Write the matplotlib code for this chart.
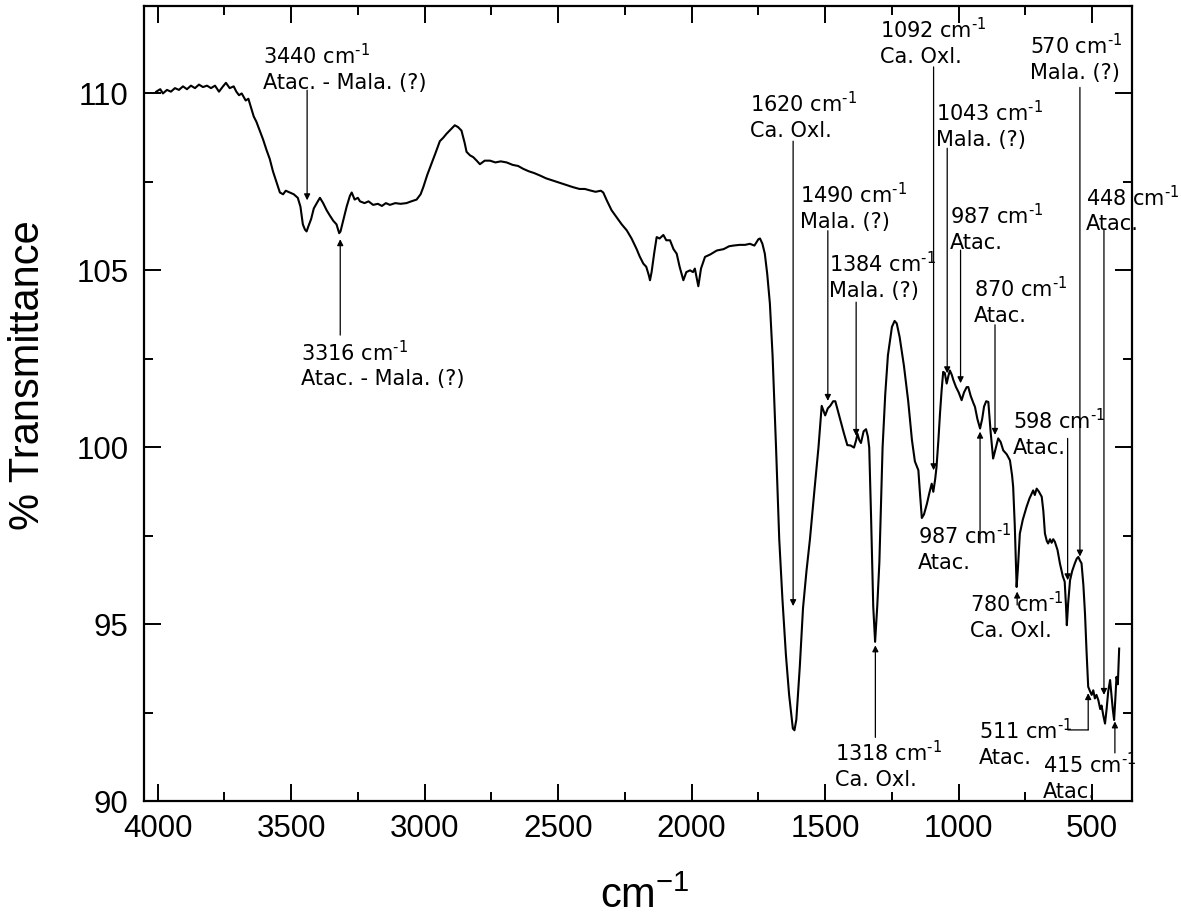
import matplotlib
matplotlib.use('Agg')
import matplotlib.pyplot as plt
from matplotlib.ticker import MultipleLocator

# FTIR spectrum (cm-1, % transmittance)
wavenumber = [
    4005, 3990, 3980, 3965, 3950, 3935, 3920, 3905, 3890, 3875, 3860, 3845,
    3830, 3815, 3800, 3785, 3770, 3755, 3744, 3730, 3715, 3705, 3695, 3685,
    3670, 3660, 3650, 3640, 3630, 3620, 3605, 3592, 3580, 3568, 3555, 3542,
    3530, 3520, 3505, 3490, 3475, 3465, 3456, 3448, 3442, 3435, 3425, 3415,
    3400, 3392, 3380, 3367, 3355, 3342, 3330, 3320, 3315, 3305, 3292, 3280,
    3273, 3262, 3250, 3242, 3225, 3210, 3193, 3175, 3160, 3145, 3130, 3110,
    3090, 3068, 3050, 3030, 3015, 3005, 2990, 2980, 2960, 2943, 2930, 2918,
    2900, 2887, 2875, 2862, 2850, 2843, 2830, 2818, 2805, 2793, 2775, 2755,
    2735, 2715, 2693, 2670, 2650, 2631, 2610, 2590, 2568, 2545, 2525, 2506,
    2485, 2465, 2444, 2420, 2400, 2381, 2360, 2340, 2331, 2318, 2300, 2281,
    2262, 2243, 2225, 2206, 2195, 2181, 2170, 2160, 2156, 2150, 2140, 2131,
    2120, 2106, 2095, 2081, 2068, 2056, 2045, 2031, 2020, 2006, 1995, 1988,
    1975, 1965, 1950, 1930, 1906, 1880, 1860, 1844, 1820, 1800, 1782, 1765,
    1750, 1744, 1735, 1726, 1717, 1707, 1697, 1684, 1672, 1660, 1647, 1635,
    1621, 1615, 1608, 1595, 1583, 1570, 1557, 1540, 1525, 1513, 1500, 1490,
    1481, 1470, 1462, 1443, 1430, 1417, 1405, 1392, 1384, 1379, 1372, 1366,
    1356, 1347, 1340, 1335, 1328, 1320, 1313, 1305, 1297, 1285, 1275, 1265,
    1250, 1240, 1232, 1221, 1205, 1189, 1175, 1164, 1151, 1145, 1138, 1130,
    1119, 1110, 1101, 1095, 1088, 1083, 1076, 1070, 1064, 1058, 1052, 1045,
    1039, 1033, 1026, 1020, 1010, 1000, 989, 980, 970, 964, 955, 945,
    939, 930, 920, 912, 905, 897, 889, 880, 871, 862, 852, 843,
    833, 820, 808, 800, 796, 790, 783, 778, 771, 760, 746, 735,
    721, 715, 708, 700, 689, 683, 677, 670, 665, 658, 652, 646,
    640, 630, 621, 610, 603, 598, 595, 590, 583, 575, 565, 558,
    552, 546, 540, 533, 527, 521, 515, 508, 502, 496, 490, 484,
    477, 470, 465, 458, 452, 446, 440, 433, 428, 423, 418, 414,
    409, 404, 399,
]
transmittance = [
    110.05, 110.12, 110.0, 110.1, 110.05, 110.15, 110.1, 110.2, 110.12, 110.22, 110.15, 110.25,
    110.18, 110.22, 110.15, 110.22, 110.05, 110.2, 110.3, 110.15, 110.2, 110.05, 109.95, 110.0,
    109.8, 109.85, 109.6, 109.35, 109.2, 109.0, 108.7, 108.4, 108.15, 107.8, 107.5, 107.2,
    107.15, 107.25, 107.2, 107.15, 107.05, 106.8, 106.3, 106.15, 106.1, 106.25, 106.45, 106.75,
    106.95, 107.05, 106.9, 106.7, 106.55, 106.4, 106.3, 106.05, 106.1, 106.4, 106.8, 107.1,
    107.2, 107.0, 107.05, 106.95, 106.9, 106.95, 106.85, 106.88, 106.82, 106.9, 106.85, 106.9,
    106.88, 106.9, 106.95, 107.0, 107.15, 107.35, 107.7, 107.9, 108.3, 108.65, 108.75, 108.86,
    109.0, 109.1, 109.05, 108.95, 108.6, 108.35, 108.25, 108.2, 108.1, 108.0, 108.1, 108.1,
    108.05, 108.08, 108.05, 107.98, 107.95, 107.87, 107.8, 107.75, 107.68, 107.6, 107.55, 107.5,
    107.45, 107.4, 107.35, 107.3, 107.3, 107.26, 107.22, 107.25, 107.2, 106.98, 106.7, 106.5,
    106.3, 106.13, 105.9, 105.6, 105.4, 105.19, 105.1, 104.85, 104.72, 104.95, 105.5, 105.94,
    105.9, 106.0, 105.85, 105.85, 105.6, 105.47, 105.1, 104.72, 104.95, 105.0, 104.95, 105.05,
    104.55, 105.05, 105.38, 105.45, 105.56, 105.6, 105.68, 105.7, 105.72, 105.72, 105.75, 105.7,
    105.88, 105.9, 105.75, 105.47, 104.9, 104.06, 102.6, 100.0, 97.4, 95.7, 94.13, 93.0,
    92.05, 92.0, 92.3, 93.8, 95.45, 96.5, 97.4, 98.8, 100.0, 101.17, 100.9, 101.1,
    101.17, 101.3, 101.3, 100.77, 100.4, 100.06, 100.05, 99.99, 100.2, 100.38, 100.2, 100.12,
    100.45, 100.51, 100.3, 99.99, 98.0, 95.5, 94.5, 95.5, 96.75, 99.99, 101.5, 102.6,
    103.4, 103.57, 103.5, 103.11, 102.3, 101.3, 100.2, 99.6, 99.35, 98.7, 98.0, 98.1,
    98.4, 98.7, 98.97, 98.74, 99.1, 99.44, 100.2, 100.95, 101.6, 102.13, 102.1, 101.8,
    102.0, 102.17, 102.05, 101.9, 101.7, 101.55, 101.33, 101.55, 101.7, 101.7, 101.45, 101.25,
    101.14, 100.8, 100.53, 100.8, 101.15, 101.3, 101.28, 100.4, 99.68, 99.95, 100.25, 100.15,
    99.91, 99.8, 99.63, 99.2, 98.88, 97.8, 96.05, 96.6, 97.56, 97.95, 98.31, 98.55,
    98.78, 98.65, 98.83, 98.75, 98.6, 98.2, 97.56, 97.35, 97.28, 97.4, 97.3, 97.4,
    97.33, 97.1, 96.72, 96.35, 96.2, 95.5, 94.97, 95.6, 96.24, 96.5, 96.72, 96.85,
    96.9, 96.8, 96.72, 96.1, 95.3, 94.2, 93.23, 93.1, 93.0, 93.13, 92.9, 93.0,
    92.85, 92.6, 92.7, 92.4, 92.19, 92.6, 93.1, 93.42, 93.0, 92.6, 92.29, 92.8,
    93.51, 93.3, 94.31,
]

x_ticks = [4000, 3500, 3000, 2500, 2000, 1500, 1000, 500]
y_ticks = [90, 95, 100, 105, 110]

# peak labels: (band, assignment)
peaks = ['3440', '3316', '1620', '1490', '1384', '1318', '1092', '1043',
         '987', '870', '987', '780', '598', '570', '448', '511', '415']
assignments = ['Atac. - Mala. (?)', 'Atac. - Mala. (?)', 'Ca. Oxl.', 'Mala. (?)',
               'Mala. (?)', 'Ca. Oxl.', 'Ca. Oxl.', 'Mala. (?)', 'Atac.', 'Atac.',
               'Atac.', 'Ca. Oxl.', 'Atac.', 'Mala. (?)', 'Atac.', 'Atac.', 'Atac.']

# where each label sits (left x, first baseline) and its arrow (x, tail, tip)
label_pos = [(3607, 110.89), (3464, 102.51), (1780, 109.53), (1595, 106.96),
             (1484, 105.0), (1462, 91.2), (1294, 111.62), (1085, 109.27),
             (1033, 106.37), (943, 104.3), (1152, 97.33), (958, 95.4),
             (798, 100.58), (733, 111.18), (523, 106.89), (923, 91.82),
             (686, 90.84)]
arrow_pos = [(3440, 110.09, 106.98), (3316, 103.17, 105.88), (1620, 108.65, 95.51),
             (1490, 106.12, 101.31), (1384, 104.1, 100.32), (1312, 91.8, 94.4),
             (1094, 110.75, 99.35), (1043, 108.45, 102.09), (993, 105.57, 101.81),
             (864, 103.46, 100.35), (920, 97.29, 100.44), (781, 95.54, 95.92),
             (592, 100.25, 96.24), (546, 110.17, 96.91), (456, 106.14, 93.0),
             (515, 92.01, 93.05), (415, 91.36, 92.25)]
line_gap = 0.763  # distance between the two label lines, in % units

fig = plt.figure(figsize=(11.81, 9.16), dpi=100)
ax = fig.add_axes([0.1219, 0.1255, 0.9585 - 0.1219, 0.9934 - 0.1255])

ax.plot(wavenumber, transmittance, color='black', lw=1.5)

ax.set_xlim(4051, 351)
ax.set_ylim(90, 112.47)
ax.set_xticks(x_ticks)
ax.set_yticks(y_ticks)
ax.xaxis.set_minor_locator(MultipleLocator(250))
ax.yaxis.set_minor_locator(MultipleLocator(2.5))
ax.tick_params(which='both', direction='in', top=True, right=True, width=1.4)
ax.tick_params(which='major', length=12)
ax.tick_params(which='minor', length=6.3)
ax.tick_params(axis='x', pad=9)
ax.tick_params(axis='y', pad=11)
for lab in ax.get_xticklabels() + ax.get_yticklabels():
    lab.set_fontfamily('Liberation Sans')
    lab.set_fontsize(22.5)
for sp in ax.spines.values():
    sp.set_linewidth(1.6)

ax.set_ylabel('% Transmittance', fontfamily='Liberation Sans', fontsize=30)
ax.yaxis.set_label_coords(-0.097, 0.536)
ax.set_xlabel('cm$\\mathregular{^{-1}}$', fontfamily='Liberation Sans', fontsize=30)
ax.xaxis.set_label_coords(0.507, -0.135)
ax.xaxis.label.set_va('baseline')

# peak annotations (baseline alignment uses the last line, so step down one line)
arrow_style = dict(arrowstyle='-|>', color='black', lw=0.9, mutation_scale=9,
                   shrinkA=0, shrinkB=0)
for i in range(len(peaks)):
    txt = peaks[i] + ' cm$\\mathregular{^{\u20101}}$\n' + assignments[i]
    ax.text(label_pos[i][0], label_pos[i][1] - line_gap, txt, fontsize=15,
            ha='left', va='baseline', linespacing=1.29, family='DejaVu Sans')
    ax_x, tail, tip = arrow_pos[i]
    ax.annotate('', xy=(ax_x, tip), xytext=(ax_x, tail), arrowprops=arrow_style)

# elbow leading from the 511 label to its arrow
ax.annotate('', xy=(515, 92.01), xytext=(591, 92.01),
            arrowprops=dict(arrowstyle='-', color='black', lw=0.9, shrinkA=0, shrinkB=0))

plt.savefig('out.png', dpi=100)
